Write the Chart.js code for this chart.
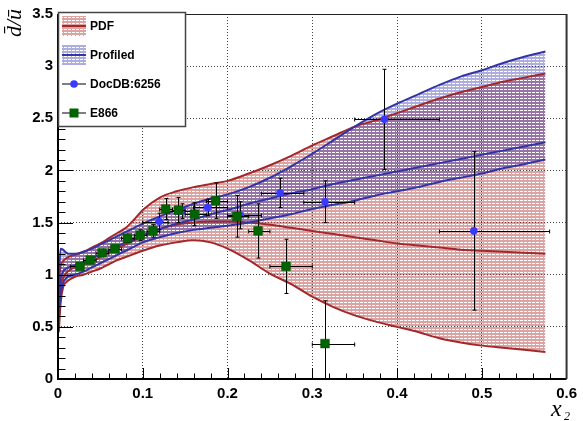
<!DOCTYPE html>
<html>
<head>
<meta charset="utf-8">
<script src="https://cdn.jsdelivr.net/npm/chart.js@4.4.1/dist/chart.umd.min.js"></script>
<style>
    html, body { margin: 0; padding: 0; background: #ffffff; }
</style>
</head>
<body>
<canvas id="ratioChart" width="583" height="421"></canvas>
<script>

// malla en x de las bandas
const X_MALLA = [0.001, 0.003, 0.006, 0.01, 0.015, 0.02, 0.03, 0.04, 0.05, 0.06, 0.07, 0.08, 0.09, 0.1, 0.12, 0.14, 0.16, 0.18, 0.2, 0.225, 0.25, 0.275, 0.3, 0.325, 0.35, 0.375, 0.4, 0.425, 0.45, 0.475, 0.5, 0.525, 0.55, 0.575];

// banda PDF
const PDF_SUP = [0.95, 1.08, 1.13, 1.16, 1.18, 1.19, 1.22, 1.26, 1.30, 1.35, 1.40, 1.45, 1.53, 1.62, 1.74, 1.80, 1.84, 1.87, 1.90, 1.97, 2.05, 2.14, 2.24, 2.33, 2.42, 2.48, 2.55, 2.62, 2.69, 2.75, 2.80, 2.85, 2.89, 2.93];
const PDF_CEN = [0.70, 0.88, 0.97, 1.02, 1.05, 1.07, 1.10, 1.13, 1.17, 1.21, 1.25, 1.29, 1.33, 1.37, 1.44, 1.48, 1.50, 1.51, 1.51, 1.50, 1.48, 1.45, 1.42, 1.39, 1.36, 1.33, 1.30, 1.28, 1.26, 1.24, 1.23, 1.22, 1.21, 1.20];
const PDF_INF = [0.45, 0.72, 0.88, 0.93, 0.96, 0.98, 1.00, 1.03, 1.06, 1.10, 1.14, 1.17, 1.20, 1.23, 1.28, 1.31, 1.33, 1.31, 1.25, 1.14, 1.01, 0.91, 0.79, 0.69, 0.61, 0.55, 0.50, 0.45, 0.39, 0.35, 0.32, 0.30, 0.28, 0.26];

// banda Profiled
const PROF_SUP = [0.90, 1.25, 1.24, 1.21, 1.20, 1.20, 1.22, 1.25, 1.29, 1.33, 1.37, 1.41, 1.45, 1.49, 1.56, 1.62, 1.68, 1.73, 1.77, 1.84, 1.93, 2.04, 2.16, 2.29, 2.42, 2.54, 2.64, 2.73, 2.82, 2.90, 2.96, 3.03, 3.09, 3.14];
const PROF_CEN = [0.75, 0.95, 1.03, 1.06, 1.08, 1.09, 1.12, 1.16, 1.19, 1.23, 1.27, 1.31, 1.34, 1.38, 1.44, 1.49, 1.53, 1.58, 1.62, 1.68, 1.73, 1.78, 1.82, 1.87, 1.91, 1.95, 1.99, 2.03, 2.07, 2.11, 2.15, 2.19, 2.23, 2.27];
const PROF_INF = [0.60, 0.80, 0.92, 0.97, 0.99, 1.00, 1.03, 1.07, 1.11, 1.15, 1.19, 1.23, 1.27, 1.31, 1.36, 1.40, 1.43, 1.45, 1.47, 1.50, 1.54, 1.58, 1.63, 1.67, 1.71, 1.76, 1.80, 1.84, 1.89, 1.93, 1.97, 2.02, 2.06, 2.105];

// E866
const E866_X = [0.026, 0.038, 0.052, 0.067, 0.082, 0.097, 0.112, 0.127, 0.142, 0.161, 0.186, 0.211, 0.236, 0.269, 0.315];
const E866_Y = [1.08, 1.14, 1.21, 1.25, 1.35, 1.38, 1.42, 1.63, 1.62, 1.58, 1.71, 1.56, 1.42, 1.08, 0.34];
const E866_XMIN = [0.015, 0.03, 0.045, 0.06, 0.075, 0.09, 0.105, 0.12, 0.135, 0.15, 0.175, 0.2, 0.225, 0.25, 0.3];
const E866_XMAX = [0.03, 0.045, 0.06, 0.075, 0.09, 0.105, 0.12, 0.135, 0.15, 0.175, 0.2, 0.225, 0.25, 0.3, 0.35];
const E866_YERR = [0.03, 0.03, 0.03, 0.03, 0.04, 0.05, 0.06, 0.10, 0.12, 0.11, 0.17, 0.20, 0.26, 0.26, 0.41];

// DocDB:6256
const DOC_X = [0.1195, 0.146, 0.1766, 0.215, 0.262, 0.315, 0.385, 0.4906];
const DOC_Y = [1.51, 1.61, 1.645, 1.57, 1.785, 1.70, 2.49, 1.42];
const DOC_XMIN = [0.1, 0.13, 0.16, 0.2, 0.24, 0.29, 0.35, 0.45];
const DOC_XMAX = [0.13, 0.16, 0.2, 0.24, 0.29, 0.35, 0.45, 0.58];
const DOC_YERR = [0.08, 0.07, 0.08, 0.13, 0.14, 0.20, 0.48, 0.76];

const LEYENDA = ["PDF", "Profiled", "DocDB:6256", "E866"];

const ROJO = "#a3282c";
const AZUL = "#3434a6";
const VERDE = "#006400";
const AZUL_PUNTO = "#3a3aff";
const FUENTE = "'Liberation Sans', Arial, sans-serif";

const canvas = document.getElementById("ratioChart");
const ctx0 = canvas.getContext("2d");

function crearPatron(color) {
    const t = document.createElement("canvas");
    t.width = 4;
    t.height = 3;
    const g = t.getContext("2d");
    g.fillStyle = color;
    g.fillRect(0, 0, 4, 2);
    g.fillRect(3, 2, 1, 1);
    return ctx0.createPattern(t, "repeat");
}

const patronRojo = crearPatron("rgba(180, 50, 50, 0.45)");
const patronAzul = crearPatron("rgba(40, 40, 170, 0.38)");

function puntos(xs, ys) {
    return xs.map((x, i) => ({ x: x, y: ys[i] }));
}

function linea(datos, color, relleno, patron) {
    return {
        data: datos,
        showLine: true,
        pointRadius: 0,
        borderColor: color,
        borderWidth: 2,
        cubicInterpolationMode: "monotone",
        fill: relleno,
        backgroundColor: patron || "transparent"
    };
}

function dibujarErrores(chart, xs, ys, xmin, xmax, yerr) {
    const { ctx, chartArea: a, scales: { x, y } } = chart;
    ctx.save();
    ctx.beginPath();
    ctx.rect(a.left, a.top, a.width, a.height);
    ctx.clip();
    ctx.strokeStyle = "#000";
    ctx.lineWidth = 1;
    xs.forEach((xv, i) => {
        const cx = Math.round(x.getPixelForValue(xv)) + 0.5;
        const cy = Math.round(y.getPixelForValue(ys[i])) + 0.5;
        const x0 = x.getPixelForValue(xmin[i]);
        const x1 = x.getPixelForValue(xmax[i]);
        const y0 = y.getPixelForValue(ys[i] - yerr[i]);
        const y1 = y.getPixelForValue(ys[i] + yerr[i]);
        ctx.beginPath();
        ctx.moveTo(x0, cy); ctx.lineTo(x1, cy);
        ctx.moveTo(cx, y0); ctx.lineTo(cx, y1);
        ctx.moveTo(x0, cy - 2); ctx.lineTo(x0, cy + 2);
        ctx.moveTo(x1, cy - 2); ctx.lineTo(x1, cy + 2);
        ctx.moveTo(cx - 2, y0); ctx.lineTo(cx + 2, y0);
        ctx.moveTo(cx - 2, y1); ctx.lineTo(cx + 2, y1);
        ctx.stroke();
    });
    ctx.restore();
}

function dibujarMarcas(chart) {
    const { ctx, chartArea: a, scales: { x, y } } = chart;
    ctx.save();
    ctx.strokeStyle = "#000";
    ctx.lineWidth = 1;
    ctx.beginPath();
    for (let i = 1; i < 30; i++) {
        const px = Math.round(x.getPixelForValue(i * 0.02)) + 0.5;
        const largo = i % 5 === 0 ? 11 : 5.5;
        ctx.moveTo(px, a.bottom);
        ctx.lineTo(px, a.bottom - largo);
    }
    for (let i = 1; i < 35; i++) {
        const py = Math.round(y.getPixelForValue(i * 0.1)) + 0.5;
        const largo = i % 5 === 0 ? 15 : 7.5;
        ctx.moveTo(a.left, py);
        ctx.lineTo(a.left + largo, py);
    }
    ctx.stroke();

    // marco
    ctx.lineWidth = 1;
    ctx.strokeStyle = "#222";
    ctx.beginPath();
    ctx.moveTo(a.left, a.top + 0.5);
    ctx.lineTo(a.right, a.top + 0.5);
    ctx.stroke();
    ctx.lineWidth = 2;
    ctx.strokeStyle = "#000";
    ctx.beginPath();
    ctx.moveTo(a.left, a.top);
    ctx.lineTo(a.left, a.bottom);
    ctx.lineTo(a.right, a.bottom);
    ctx.stroke();
    ctx.strokeStyle = "#333";
    ctx.beginPath();
    ctx.moveTo(a.right, a.top);
    ctx.lineTo(a.right, a.bottom);
    ctx.stroke();
    ctx.restore();
}

function dibujarTitulos(chart) {
    const { ctx, chartArea: a } = chart;
    ctx.save();
    ctx.fillStyle = "#000";
    ctx.font = "italic 22px 'Liberation Serif', 'Times New Roman', serif";
    ctx.translate(21, a.top - 5);
    ctx.rotate(-Math.PI / 2);
    ctx.textAlign = "right";
    ctx.textBaseline = "alphabetic";
    ctx.fillText("d\u0304/\u016B", 0, 0);
    ctx.restore();

    ctx.save();
    ctx.fillStyle = "#000";
    ctx.textBaseline = "alphabetic";
    ctx.textAlign = "left";
    ctx.font = "italic 24px 'Liberation Serif', 'Times New Roman', serif";
    ctx.fillText("x", 551, 416);
    ctx.font = "italic 12px 'Liberation Serif', 'Times New Roman', serif";
    ctx.fillText("2", 564, 420);
    ctx.restore();
}

function dibujarLeyenda(chart) {
    const { ctx } = chart;
    const filas = [26, 55, 84, 113];
    ctx.save();
    ctx.fillStyle = "#ffffff";
    ctx.fillRect(58, 12, 128, 115);
    ctx.strokeStyle = "#444";
    ctx.lineWidth = 1.5;
    ctx.strokeRect(58.5, 12.5, 127, 114);

    // bandas
    [[patronRojo, ROJO], [patronAzul, AZUL]].forEach((par, i) => {
        const yc = filas[i];
        ctx.fillStyle = par[0];
        ctx.fillRect(62, yc - 10, 24, 20);
        ctx.strokeStyle = par[1];
        ctx.lineWidth = 2;
        ctx.beginPath();
        ctx.moveTo(62, yc);
        ctx.lineTo(86, yc);
        ctx.stroke();
    });

    // marcadores
    ctx.strokeStyle = "#555";
    ctx.lineWidth = 1.5;
    [filas[2], filas[3]].forEach(yc => {
        ctx.beginPath();
        ctx.moveTo(62, yc);
        ctx.lineTo(86, yc);
        ctx.stroke();
    });
    ctx.fillStyle = AZUL_PUNTO;
    ctx.beginPath();
    ctx.arc(74, filas[2], 3.8, 0, Math.PI * 2);
    ctx.fill();
    ctx.fillStyle = VERDE;
    ctx.fillRect(69.5, filas[3] - 4.5, 9, 9);

    ctx.fillStyle = "#000";
    ctx.font = "bold 12px " + FUENTE;
    ctx.textAlign = "left";
    ctx.textBaseline = "middle";
    LEYENDA.forEach((t, i) => ctx.fillText(t, 90, filas[i] + 1));
    ctx.restore();
}

const extras = {
    id: "extras",
    beforeDraw(chart) {
        const { ctx } = chart;
        ctx.save();
        ctx.fillStyle = "#ffffff";
        ctx.fillRect(0, 0, chart.width, chart.height);
        ctx.restore();
    },
    beforeDatasetDraw(chart, args) {
        if (args.index === 1) {
            dibujarErrores(chart, DOC_X, DOC_Y, DOC_XMIN, DOC_XMAX, DOC_YERR);
        }
        if (args.index === 0) {
            dibujarErrores(chart, E866_X, E866_Y, E866_XMIN, E866_XMAX, E866_YERR);
        }
    },
    afterDraw(chart) {
        dibujarMarcas(chart);
        dibujarTitulos(chart);
        dibujarLeyenda(chart);
    }
};

function formatear(v) {
    return String(Math.round(v * 100) / 100);
}

const fuenteEje = { family: FUENTE, size: 15, weight: "bold" };

new Chart(canvas, {
    type: "scatter",
    data: {
        datasets: [
            {
                data: puntos(E866_X, E866_Y),
                pointStyle: "rect",
                pointRadius: 6.2,
                pointBackgroundColor: VERDE,
                pointBorderColor: "#004d00",
                pointBorderWidth: 0.5
            },
            {
                data: puntos(DOC_X, DOC_Y),
                pointStyle: "circle",
                pointRadius: 3.8,
                pointBackgroundColor: AZUL_PUNTO,
                pointBorderColor: AZUL_PUNTO,
                pointBorderWidth: 0
            },
            linea(puntos(X_MALLA, PROF_SUP), AZUL, "+2", patronAzul),
            linea(puntos(X_MALLA, PROF_CEN), AZUL, false),
            linea(puntos(X_MALLA, PROF_INF), AZUL, false),
            linea(puntos(X_MALLA, PDF_SUP), ROJO, "+2", patronRojo),
            linea(puntos(X_MALLA, PDF_CEN), ROJO, false),
            linea(puntos(X_MALLA, PDF_INF), ROJO, false)
        ]
    },
    options: {
        responsive: false,
        animation: false,
        layout: { padding: { top: 12, right: 13, left: 0, bottom: 0 } },
        plugins: {
            legend: { display: false },
            tooltip: { enabled: false },
            filler: { drawTime: "beforeDatasetsDraw" }
        },
        scales: {
            x: {
                type: "linear",
                min: 0,
                max: 0.6,
                afterFit: s => { s.height = 42; },
                ticks: {
                    stepSize: 0.1,
                    padding: 6,
                    color: "#000",
                    font: fuenteEje,
                    maxRotation: 0,
                    autoSkip: false,
                    callback: v => formatear(v)
                },
                grid: { color: "#444", lineWidth: 1, drawTicks: false },
                border: { display: false, dash: [1, 2] }
            },
            y: {
                min: 0,
                max: 3.5,
                afterFit: s => { s.width = 58; },
                ticks: {
                    stepSize: 0.5,
                    padding: 5,
                    color: "#000",
                    font: fuenteEje,
                    autoSkip: false,
                    callback: v => formatear(v)
                },
                grid: { color: "#444", lineWidth: 1, drawTicks: false },
                border: { display: false, dash: [1, 2] }
            }
        }
    },
    plugins: [extras]
});
</script>
</body>
</html>
